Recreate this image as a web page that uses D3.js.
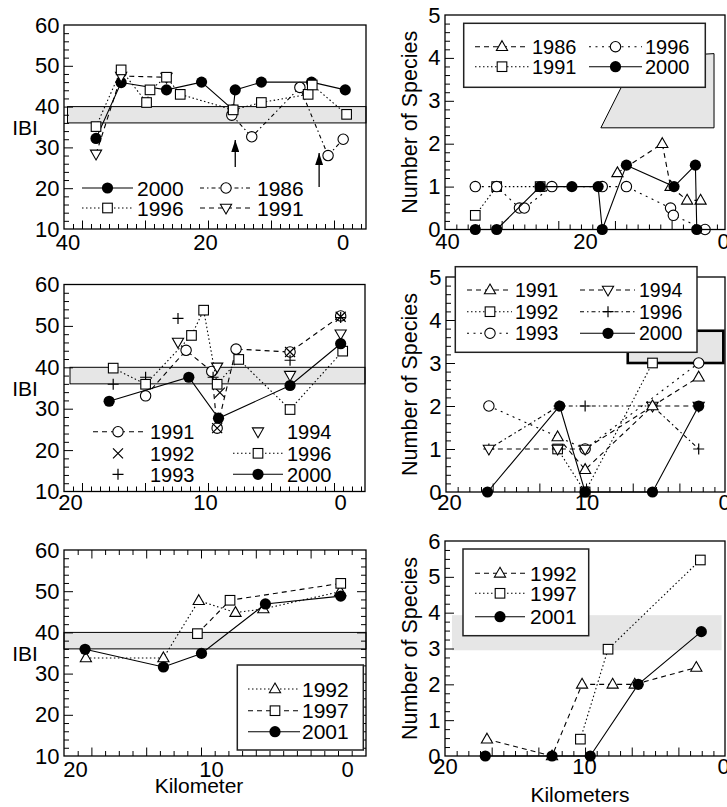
<!DOCTYPE html>
<html><head><meta charset="utf-8">
<script src="https://cdn.jsdelivr.net/npm/d3@7"></script>
<style>
body{margin:0;background:#fff}
svg{display:block}
text{font-family:"Liberation Sans",Arial,Helvetica,sans-serif;fill:#000}
</style>
</head><body>
<svg id="c" width="727" height="807"></svg>
<script>
// ================= DATA =================
// tick labels
const ibiYTicks = [10,20,30,40,50,60];
const sppYTicks5 = [0,1,2,3,4,5];
const sppYTicks6 = [0,1,2,3,4,5,6];
const kmTicksUpper = [40,20,0];
const kmTicksLower = [20,10,0];
const ibiBand = [36,40];

// Panel A: IBI, upper reach  [km, IBI]
const aIbi2000 = [[35.85,32.2],[32.2,45.9],[25.6,44.1],[20.5,46],[15.9,39.2],[15.6,44.1],[11.8,46],[4.5,46],[-0.4,44.1]];
const aIbi1991 = [[35.85,28.4],[32.2,47.5],[25.6,47.2]];
const aIbi1986 = [[16.1,37.9],[13.2,32.6],[6.2,44.7],[2.1,28.0],[-0.1,32.0]];
const aIbi1996 = [[35.85,35.1],[32.2,49.0],[28.5,41.0],[28.0,44.1],[25.6,47.2],[23.6,43.0],[15.9,39.2],[11.8,41.0],[5.0,43.0],[4.4,45.3],[-0.6,38.1]];
const aArrows = [[15.6,25.2,31.8],[3.4,20.3,28.6]]; // km, from IBI, to IBI
const aBandStartKm = 40;
const aLegendYears = ['2000','1986','1996','1991'];

// Panel B: species, upper reach  [km, number]
const bSpp1991 = [[35.9,0.33],[32.8,1],[26.5,1]];
const bSpp1996 = [[35.9,1],[32.8,1],[29.5,0.5],[28.8,0.5],[24.8,1],[17.5,1],[14.0,1],[7.6,0.5],[7.2,0.33],[2.6,0]];
const bSpp1986 = [[15.3,1.32],[8.8,2],[7.6,1],[5.2,0.68],[3.25,0.68]];
const bSpp2000 = [[35.9,0],[32.8,0],[26.5,1],[21.9,1],[18.1,1],[17.5,0],[14.0,1.5],[7.1,1],[4.0,1.5],[3.8,0]];
const bExpected = [[17.7,2.37],[1.3,2.37],[1.3,4.1],[12.6,4.0]];
const bLegendYears = ['1986','1996','1991','2000'];

// Panel C: IBI, middle reach
const cIbi1991 = [[14.4,33.1],[11.4,44.1],[9.5,39.0],[9.1,25.3],[7.7,44.4],[3.7,43.7],[-0.05,52.4]];
const cIbi1992 = [[9.1,25.3],[8.9,33.9],[3.7,43.7],[-0.05,52.2]];
const cIbi1993 = [[16.8,35.9],[14.4,37.6],[12.0,51.8],[9.4,37.6],[3.7,41.7],[-0.05,52.0]];
const cIbi1994 = [[12.0,46.1],[9.1,40.1],[3.7,38.1],[-0.05,48.1]];
const cIbi1996 = [[16.8,39.8],[14.4,35.9],[11.0,47.7],[10.1,53.8],[9.1,35.9],[7.5,41.9],[3.7,29.8],[-0.2,43.9]];
const cIbi2000 = [[17.1,31.8],[11.2,37.6],[9.0,27.7],[3.7,35.6],[-0.05,45.7]];
const cBandStartKm = 20;
const cLegendYears = ['1991','1994','1992','1996','1993','2000'];

// Panel D: species, middle reach
const dSpp1993 = [[17.1,2],[10.1,1],[1.84,3]];
const dSpp1996 = [[17.1,1],[12.0,2],[10.1,2],[5.2,2],[1.84,1]];
const dSpp1992 = [[12.1,1.0],[10.1,0],[5.2,3.0]];
const dSpp1994 = [[17.1,1],[12.1,1],[10.1,1],[5.2,2],[1.84,2]];
const dSpp1991 = [[12.1,1.28],[10.1,0.52],[5.2,2],[1.84,2.67]];
const dSpp2000 = [[17.2,0],[11.95,2],[10.1,0],[5.2,0],[1.84,2]];
const dExpectedKm = [7.0,0.05];
const dExpectedSpp = [3.0,3.75];
const dLegendYears = ['1991','1994','1992','1996','1993','2000'];

// Panel E: IBI, lower reach
const eIbi1992 = [[19.2,33.8],[13.5,33.8],[10.9,47.7],[8.2,44.8],[6.15,45.7],[0.5,49.9]];
const eIbi1997 = [[11.0,39.7],[8.6,47.8],[0.46,51.9]];
const eIbi2001 = [[19.26,35.9],[13.5,31.6],[10.7,34.9],[6.0,46.9],[0.46,48.8]];
const eBandStartKm = 25;
const eLegendYears = ['1992','1997','2001'];

// Panel F: species, lower reach
const fSpp1992 = [[16.98,0.47],[12.3,0],[10.14,2],[7.94,2],[6.35,2],[1.92,2.47]];
const fSpp1997 = [[10.26,0.47],[8.27,2.98],[1.63,5.47]];
const fSpp2001 = [[17.1,0],[12.3,0],[9.55,0],[6.1,2],[1.56,3.47]];
const fBandKm = [19.5,0.1];
const fBandSpp = [2.95,3.93];
const fLegendYears = ['1992','1997','2001'];

// ================= STYLE / LAYOUT =================
const DASH = {solid:null, dash:'5,4', dot:'1.5,2.5', dashdot:'4,3,1.5,3', sparse:'2,4.5', none:'none'};
const svg = d3.select('#c');

svg.append('defs').append('marker')
  .attr('id','ah').attr('viewBox','0 0 12 8').attr('refX',12).attr('refY',4)
  .attr('markerWidth',12).attr('markerHeight',8).attr('markerUnits','userSpaceOnUse')
  .attr('orient','auto')
  .append('path').attr('d','M0,0L12,4L0,8Z').attr('fill','#000');

function marker(g, type, cx, cy){
  const sw = 1.1;
  if(type==='fc') g.append('circle').attr('cx',cx).attr('cy',cy).attr('r',5.6).attr('fill','#000');
  else if(type==='oc') g.append('circle').attr('cx',cx).attr('cy',cy).attr('r',5.2).attr('fill','#fff').attr('stroke','#000').attr('stroke-width',sw);
  else if(type==='sq') g.append('rect').attr('x',cx-4.8).attr('y',cy-4.8).attr('width',9.6).attr('height',9.6).attr('fill','#fff').attr('stroke','#000').attr('stroke-width',sw);
  else if(type==='tu') g.append('path').attr('d',`M${cx},${cy-6}L${cx+5.6},${cy+3.8}L${cx-5.6},${cy+3.8}Z`).attr('fill','#fff').attr('stroke','#000').attr('stroke-width',sw);
  else if(type==='td') g.append('path').attr('d',`M${cx},${cy+6}L${cx+5.6},${cy-3.8}L${cx-5.6},${cy-3.8}Z`).attr('fill','#fff').attr('stroke','#000').attr('stroke-width',sw);
  else if(type==='x') g.append('path').attr('d',`M${cx-5},${cy-5}L${cx+5},${cy+5}M${cx+5},${cy-5}L${cx-5},${cy+5}`).attr('stroke','#000').attr('stroke-width',1.2).attr('fill','none');
  else if(type==='+') g.append('path').attr('d',`M${cx-5.5},${cy}L${cx+5.5},${cy}M${cx},${cy-5.5}L${cx},${cy+5.5}`).attr('stroke','#000').attr('stroke-width',1.2).attr('fill','none');
}

const panels = [
 {fr:{x0:64,x1:366,y0:25,y1:229}, xd:[40,0], xr:[67.5,342.5], yd:[10,60],
  xt:kmTicksUpper, yt:ibiYTicks, yMinor:2, yMajor:10, deco:{sp:9,ev:7,off:2}, xPad:5.4,
  ytitle:'IBI', bandStart:aBandStartKm,
  series:[{d:aIbi2000,m:'fc',s:'solid'},{d:aIbi1991,m:'td',s:'dash'},{d:aIbi1986,m:'oc',s:'dashdot'},{d:aIbi1996,m:'sq',s:'dot'}],
  arrows:aArrows,
  legend:{box:null, font:21, rows:[188,208], cols:[{l0:82,l1:133,m:107.5,t:137},{l0:200,l1:253,m:226,t:257}],
    items:[{m:'fc',s:'solid',c:0,r:0},{m:'oc',s:'dashdot',c:1,r:0},{m:'sq',s:'dot',c:0,r:1},{m:'td',s:'dash',c:1,r:1}], years:aLegendYears}},
 {fr:{x0:445,x1:725,y0:15,y1:229.5}, xd:[40,0], xr:[447,723], yd:[0,5],
  xt:kmTicksUpper, yt:sppYTicks5, yMinor:0.2, yMajor:1, deco:{sp:11.33,ev:5,off:0}, xPad:3.4,
  ytitle:'Number of Species', poly:bExpected,
  series:[{d:bSpp1991,m:'sq',s:'dot'},{d:bSpp1996,m:'oc',s:'sparse'},{d:bSpp1986,m:'tu',s:'dash'},{d:bSpp2000,m:'fc',s:'solid'}],
  legend:{box:[463.7,23.3,705.3,87.3], font:20, rows:[46.7,66.7], cols:[{l0:475,l1:529,m:502,t:532},{l0:589,l1:642,m:615.5,t:645}],
    items:[{m:'tu',s:'dash',c:0,r:0},{m:'oc',s:'sparse',c:1,r:0},{m:'sq',s:'dot',c:0,r:1},{m:'fc',s:'solid',c:1,r:1}], years:bLegendYears}},
 {fr:{x0:64,x1:365,y0:284.5,y1:491.5}, xd:[20,0], xr:[70,340], yd:[10,60],
  xt:kmTicksLower, yt:ibiYTicks, yMinor:2, yMajor:10, deco:{sp:9,ev:7,off:2}, xPad:2.9,
  ytitle:'IBI', bandStart:cBandStartKm,
  series:[{d:cIbi1991,m:'oc',s:'dash'},{d:cIbi1992,m:'x',s:'none'},{d:cIbi1993,m:'+',s:'none'},{d:cIbi1994,m:'td',s:'none'},{d:cIbi1996,m:'sq',s:'dot'},{d:cIbi2000,m:'fc',s:'solid'}],
  legend:{box:null, font:20, rows:[431.7,453.3,474.3], cols:[{l0:93,l1:143,m:118,t:150},{l0:233,l1:283,m:258,t:287}],
    items:[{m:'oc',s:'dash',c:0,r:0},{m:'td',s:'none',c:1,r:0},{m:'x',s:'none',c:0,r:1},{m:'sq',s:'dot',c:1,r:1},{m:'+',s:'none',c:0,r:2},{m:'fc',s:'solid',c:1,r:2}], years:cLegendYears}},
 {fr:{x0:446,x1:725,y0:277,y1:492}, xd:[20,0], xr:[449,724], yd:[0,5],
  xt:kmTicksLower, yt:sppYTicks5, yMinor:0.2, yMajor:1, deco:{sp:11.67,ev:4,off:0}, xPad:2.4,
  ytitle:'Number of Species', rectKm:dExpectedKm, rectV:dExpectedSpp,
  series:[{d:dSpp1993,m:'oc',s:'sparse'},{d:dSpp1996,m:'+',s:'dashdot'},{d:dSpp1992,m:'sq',s:'dot'},{d:dSpp1994,m:'td',s:'dash'},{d:dSpp1991,m:'tu',s:'dash'},{d:dSpp2000,m:'fc',s:'solid'}],
  legend:{box:[455.3,266.7,697,352.3], font:19.5, rows:[290,311.7,333.3], cols:[{l0:467,l1:512,m:490,t:515},{l0:580,l1:635,m:608,t:639}],
    items:[{m:'tu',s:'dash',c:0,r:0},{m:'td',s:'dash',c:1,r:0},{m:'sq',s:'dot',c:0,r:1},{m:'+',s:'dashdot',c:1,r:1},{m:'oc',s:'sparse',c:0,r:2},{m:'fc',s:'solid',c:1,r:2}], years:dLegendYears}},
 {fr:{x0:64,x1:366,y0:550,y1:756}, xd:[20,0], xr:[75,347], yd:[10,60],
  xt:kmTicksLower, yt:ibiYTicks, yMinor:2, yMajor:10, deco:{sp:13.7,ev:4,off:2}, xPad:5.2, topTicks:true, rightTicks:true,
  ytitle:'IBI', bandStart:eBandStartKm, xtitle:{t:'Kilometer',x:199,y:792.5},
  series:[{d:eIbi1992,m:'tu',s:'dot'},{d:eIbi1997,m:'sq',s:'dash'},{d:eIbi2001,m:'fc',s:'solid'}],
  legend:{box:[237.3,665,363.3,750], font:21, rows:[689,710.7,731.7], cols:[{l0:248,l1:300,m:275,t:302}],
    items:[{m:'tu',s:'dot',c:0,r:0},{m:'sq',s:'dash',c:0,r:1},{m:'fc',s:'solid',c:0,r:2}], years:eLegendYears}},
 {fr:{x0:445,x1:725,y0:541,y1:756}, xd:[20,0], xr:[445,723], yd:[0,6],
  xt:kmTicksLower, yt:sppYTicks6, yMinor:0.25, yMajor:1, deco:{sp:11.67,ev:4,off:0}, xPad:1.9,
  ytitle:'Number of Species', bandKm:fBandKm, bandV:fBandSpp, xtitle:{t:'Kilometers',x:580,y:801.5},
  series:[{d:fSpp1992,m:'tu',s:'dash'},{d:fSpp1997,m:'sq',s:'dot'},{d:fSpp2001,m:'fc',s:'solid'}],
  legend:{box:[463,549,588.7,635.7], font:21, rows:[573.3,593.3,616.7], cols:[{l0:475,l1:525,m:500,t:530}],
    items:[{m:'tu',s:'dash',c:0,r:0},{m:'sq',s:'dot',c:0,r:1},{m:'fc',s:'solid',c:0,r:2}], years:fLegendYears}}
];

function hTicks(g, fr, yPos, dir, deco){
  const n = Math.floor((fr.x1 - fr.x0)/deco.sp - 0.3);
  const ts = d3.scaleLinear().domain([0,n]).range([fr.x0, fr.x0 + n*deco.sp]);
  const idx = d3.range(1, n+1);
  const groups = [[idx.filter(i => (i-deco.off)%deco.ev !== 0), 5],[idx.filter(i => (i-deco.off)%deco.ev === 0), 8.5]];
  groups.forEach(([vals,len]) => {
    const ax = (dir==='up' ? d3.axisTop(ts) : d3.axisBottom(ts)).tickValues(vals).tickSize(len).tickFormat('');
    const a = g.append('g').attr('transform',`translate(0,${yPos})`).call(ax);
    a.select('.domain').remove();
    a.selectAll('line').attr('stroke','#000').attr('stroke-width',1);
  });
}

function vTicks(g, p, y, xPos, dir){
  const vals = d3.range(p.yd[0], p.yd[1]+1e-9, p.yMinor).filter(v => v>p.yd[0]+1e-6 && v<p.yd[1]-1e-6);
  const isMaj = v => Math.abs(v/p.yMajor - Math.round(v/p.yMajor)) < 1e-6;
  [[vals.filter(v=>!isMaj(v)),5],[vals.filter(isMaj),9]].forEach(([vv,len]) => {
    const ax = (dir==='right' ? d3.axisRight(y) : d3.axisLeft(y)).tickValues(vv).tickSize(len).tickFormat('');
    const a = g.append('g').attr('transform',`translate(${xPos},0)`).call(ax);
    a.select('.domain').remove();
    a.selectAll('line').attr('stroke','#000').attr('stroke-width',1);
  });
}

panels.forEach(p => {
  const g = svg.append('g');
  const fr = p.fr;
  const x = d3.scaleLinear().domain(p.xd).range(p.xr);
  const y = d3.scaleLinear().domain(p.yd).range([fr.y1, fr.y0]);
  const W = fr.x1 - fr.x0, H = fr.y1 - fr.y0;

  // background shapes
  if(p.bandStart !== undefined){
    const bx0 = Math.max(fr.x0, x(p.bandStart));
    g.append('rect').attr('x',bx0).attr('y',y(ibiBand[1])).attr('width',fr.x1-bx0)
      .attr('height',y(ibiBand[0])-y(ibiBand[1])).attr('fill','#e6e6e6').attr('stroke','#000').attr('stroke-width',1);
  }
  if(p.poly){
    g.append('path').attr('d', d3.line().x(d=>x(d[0])).y(d=>y(d[1]))(p.poly)+'Z')
      .attr('fill','#e6e6e6').attr('stroke','#000').attr('stroke-width',1);
  }
  if(p.rectKm){
    g.append('rect').attr('x',x(p.rectKm[0])).attr('y',y(p.rectV[1]))
      .attr('width',x(p.rectKm[1])-x(p.rectKm[0])).attr('height',y(p.rectV[0])-y(p.rectV[1]))
      .attr('fill','#e6e6e6').attr('stroke','#000').attr('stroke-width',2.6);
  }
  if(p.bandKm){
    g.append('rect').attr('x',x(p.bandKm[0])).attr('y',y(p.bandV[1]))
      .attr('width',x(p.bandKm[1])-x(p.bandKm[0])).attr('height',y(p.bandV[0])-y(p.bandV[1]))
      .attr('fill','#e6e6e6');
  }

  // ticks
  vTicks(g, p, y, fr.x0, 'right');
  if(p.rightTicks) vTicks(g, p, y, fr.x1, 'left');
  hTicks(g, fr, fr.y1, 'up', p.deco);
  if(p.topTicks) hTicks(g, fr, fr.y0, 'down', p.deco);

  // series
  const line = d3.line().x(d=>x(d[0])).y(d=>y(d[1]));
  p.series.forEach(s => {
    if(s.s !== 'none'){
      g.append('path').attr('d', line(s.d)).attr('fill','none').attr('stroke','#000')
        .attr('stroke-width',1.1).attr('stroke-dasharray', DASH[s.s]);
    }
    s.d.forEach(d => marker(g, s.m, x(d[0]), y(d[1])));
  });

  // arrows
  if(p.arrows){
    p.arrows.forEach(a => {
      g.append('line').attr('x1',x(a[0])).attr('x2',x(a[0])).attr('y1',y(a[1])).attr('y2',y(a[2]))
        .attr('stroke','#000').attr('stroke-width',1.3).attr('marker-end','url(#ah)');
    });
  }

  // frame
  g.append('rect').attr('x',fr.x0).attr('y',fr.y0).attr('width',W).attr('height',H)
    .attr('fill','none').attr('stroke','#000').attr('stroke-width',1.3);

  // axis labels
  const ax = g.append('g').attr('transform',`translate(0,${fr.y1})`)
    .call(d3.axisBottom(x).tickValues(p.xt).tickSize(0).tickPadding(p.xPad).tickFormat(d3.format('d')));
  ax.select('.domain').remove();
  ax.selectAll('text').attr('font-size',22).attr('font-family','"Liberation Sans",Arial,sans-serif').attr('fill','#000');
  const ay = g.append('g').attr('transform',`translate(${fr.x0},0)`)
    .call(d3.axisLeft(y).tickValues(p.yt).tickSize(0).tickPadding(4.5).tickFormat(d3.format('d')));
  ay.select('.domain').remove();
  ay.selectAll('text').attr('font-size',22).attr('font-family','"Liberation Sans",Arial,sans-serif').attr('fill','#000');

  // y title
  const ym = (fr.y0 + fr.y1)/2;
  if(p.ytitle === 'IBI'){
    g.append('text').attr('x',25).attr('y',ym+7.5).attr('text-anchor','middle').attr('font-size',21).text('IBI');
  } else {
    g.append('text').attr('transform',`translate(409,${ym}) rotate(-90)`).attr('text-anchor','middle')
      .attr('dy','0.35em').attr('font-size',21.5).text(p.ytitle);
  }
  if(p.xtitle){
    g.append('text').attr('x',p.xtitle.x).attr('y',p.xtitle.y).attr('text-anchor','middle').attr('font-size',21).text(p.xtitle.t);
  }

  // legend
  const L = p.legend;
  const lg = svg.append('g');
  if(L.box){
    lg.append('rect').attr('x',L.box[0]).attr('y',L.box[1]).attr('width',L.box[2]-L.box[0]).attr('height',L.box[3]-L.box[1])
      .attr('fill','#fff').attr('stroke','#222').attr('stroke-width',1.5);
  }
  L.items.forEach((it,i) => {
    const c = L.cols[it.c], ry = L.rows[it.r];
    if(it.s !== 'none'){
      lg.append('line').attr('x1',c.l0).attr('x2',c.l1).attr('y1',ry).attr('y2',ry)
        .attr('stroke','#000').attr('stroke-width',1.1).attr('stroke-dasharray',DASH[it.s]);
    }
    marker(lg, it.m, c.m, ry);
    lg.append('text').attr('x',c.t).attr('y',ry+L.font*0.36).attr('font-size',L.font).text(L.years[i]);
  });
});
</script>
</body></html>
